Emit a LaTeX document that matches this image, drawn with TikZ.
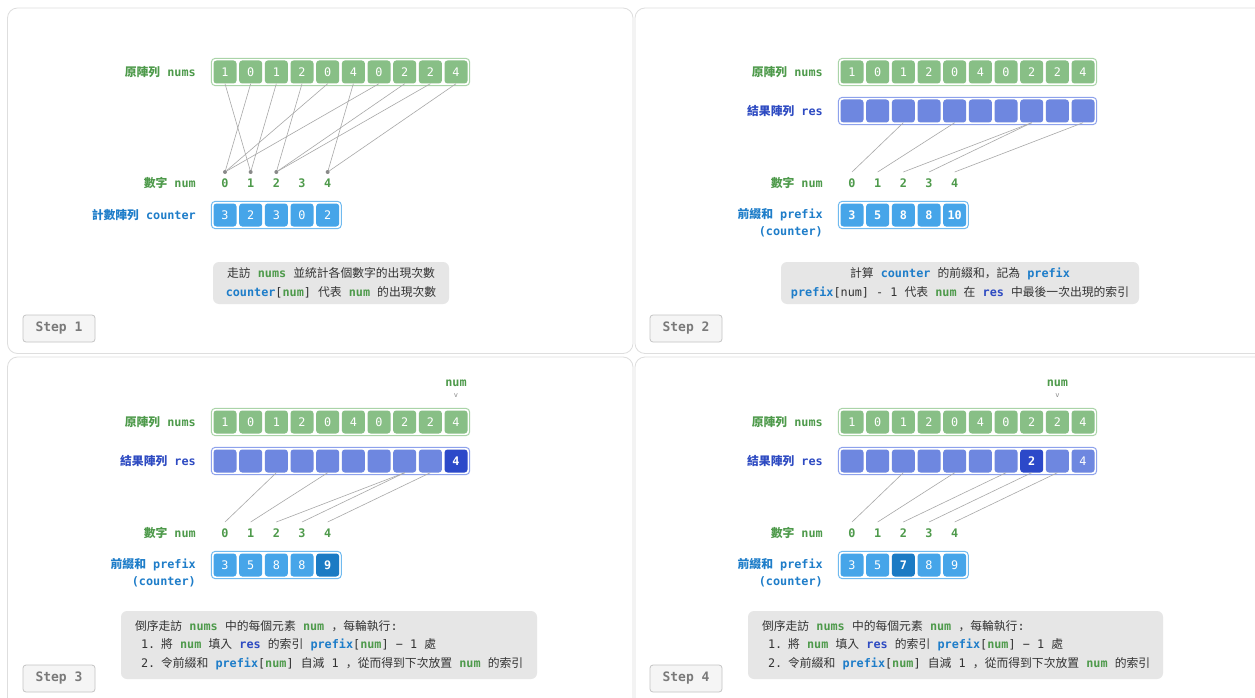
\documentclass[tikz,border=0pt]{standalone}
\usepackage{fontspec}
\setmainfont{DejaVu Sans Mono}
\newfontfamily\zhfont{Noto Sans CJK TC}
\newfontfamily\zhpunct{Noto Sans CJK SC}
\usetikzlibrary{fit}

\definecolor{numfill}{HTML}{88BF86}
\definecolor{numedge}{HTML}{AAD4A8}
\definecolor{numtext}{HTML}{4E9A4B}
\definecolor{resfill}{HTML}{6E87E0}
\definecolor{resedge}{HTML}{8EA2EC}
\definecolor{resdark}{HTML}{2C49C9}
\definecolor{restext}{HTML}{2E4BC2}
\definecolor{cntfill}{HTML}{46A5E9}
\definecolor{cntedge}{HTML}{70BAEF}
\definecolor{cntdark}{HTML}{1B7BC4}
\definecolor{cnttext}{HTML}{1E7DC9}
\definecolor{notegray}{HTML}{E6E6E6}
\definecolor{notetext}{HTML}{333333}
\definecolor{panelline}{HTML}{DEDEDE}
\definecolor{linkgray}{HTML}{A8A8A8}
\definecolor{dotgray}{HTML}{8A8A8A}
\definecolor{btnfill}{HTML}{F5F5F5}
\definecolor{btnline}{HTML}{C4C4C4}
\definecolor{btntext}{HTML}{7A7A7A}

\newcommand{\zh}[1]{{\zhfont #1}}
\newcommand{\cm}{{\zhpunct ，}}
\newcommand{\fs}{\fontsize{11.8}{18.5}\selectfont}
\newcommand{\widesp}{\spaceskip=7.2pt\relax}
\newcommand{\gk}[1]{\textcolor{numtext}{\bfseries #1}}
\newcommand{\bk}[1]{\textcolor{cnttext}{\bfseries #1}}
\newcommand{\rk}[1]{\textcolor{restext}{\bfseries #1}}

% one row of cells: name, y, style, values, hot index, hot style
\newcommand{\cellrow}[6]{%
  \foreach \v [count=\i from 0] in {#4} {
    \ifnum\i=#5\relax \def\cs{#6}\else \def\cs{#3}\fi
    \node[\cs] (#1-\i) at ({225+25.67*\i},#2) {\v};
  }
}

\tikzset{
  panel/.style={draw=panelline, line width=0.8pt, rounded corners=10pt},
  cell/.style={rounded corners=3pt, minimum width=23pt, minimum height=23pt,
    inner sep=0pt, text=white, font=\fs},
  numcell/.style={cell, fill=numfill},
  rescell/.style={cell, fill=resfill},
  reshot/.style={cell, fill=resdark, font=\fs\bfseries},
  cntcell/.style={cell, fill=cntfill},
  cntbold/.style={cell, fill=cntfill, font=\fs\bfseries},
  cnthot/.style={cell, fill=cntdark, font=\fs\bfseries},
  frame/.style={draw, rounded corners=4pt, line width=1pt, inner sep=2pt},
  lbl/.style={anchor=east, inner sep=0pt, font=\fs\bfseries},
  digit/.style={font=\fs\bfseries, text=numtext},
  dot/.style={circle, fill=dotgray, inner sep=0pt, minimum size=4pt},
  link/.style={draw=linkgray, line width=0.6pt},
  note/.style={fill=notegray, rounded corners=6pt, text=notetext, font=\fs},
  widenote/.style={note, align=left, inner xsep=14pt, minimum height=68pt},
  stepbtn/.style={draw=btnline, line width=0.8pt, fill=btnfill, rounded corners=3pt,
    text=btntext, font=\fontsize{13}{15}\selectfont\bfseries,
    minimum width=72pt, minimum height=27pt},
  marker/.style={font=\fs\bfseries, text=numtext},
  tick/.style={font=\fontsize{7}{8}\selectfont, text=dotgray},
}

\begin{document}
\begin{tikzpicture}[x=1pt, y=-1pt]
  \useasboundingbox (0,0) rectangle (1255,698);
  \fill[white] (0,0) rectangle (1255,698);
  \clip (0,0) rectangle (1255,698);

  % panels
  \draw[panel] (7.5,8) rectangle (633,353.5);
  \draw[panel] (635,8) rectangle (1270,353.5);
  \draw[panel] (7.5,357) rectangle (633,712);
  \draw[panel] (635,357) rectangle (1270,712);

  % step 1
  \node[lbl, text=numtext] (ln1) at (196,72) {\zh{原陣列} nums};
  \cellrow{a1}{72}{numcell}{1,0,1,2,0,4,0,2,2,4}{-1}{numcell}
  \node[frame, draw=numedge, fit=(a1-0)(a1-9)] (fa1) {};
  \foreach \k in {0,1,2,4}
    \node[dot] (p1-\k) at ({225+25.67*\k},172) {};
  \foreach \i/\v in {0/1,1/0,2/1,3/2,4/0,5/4,6/0,7/2,8/2,9/4}
    \draw[link] (a1-\i.south) -- (p1-\v);
  \node[lbl, text=numtext] (lk1) at (196,183) {\zh{數字} num};
  \foreach \k in {0,...,4}
    \node[digit] (k1-\k) at ({225+25.67*\k},183) {\k};
  \node[lbl, text=cnttext] (lc1) at (196,215) {\zh{計數陣列} counter};
  \cellrow{c1}{215}{cntcell}{3,2,3,0,2}{-1}{cntcell}
  \node[frame, draw=cntedge, fit=(c1-0)(c1-4)] (fc1) {};
  \node[note, align=center, minimum width=236pt, minimum height=42pt] (n1) at (331,283)
    {\zh{走訪} \gk{nums} \zh{並統計各個數字的出現次數}\\
     \bk{counter}[\gk{num}] \zh{代表} \gk{num} \zh{的出現次數}};
  \node[stepbtn] (s1) at (59,328.5) {Step 1};

  % step 2
  \begin{scope}[shift={(627,0)}]
    \node[lbl, text=numtext] (ln2) at (196,72) {\zh{原陣列} nums};
    \cellrow{a2}{72}{numcell}{1,0,1,2,0,4,0,2,2,4}{-1}{numcell}
    \node[frame, draw=numedge, fit=(a2-0)(a2-9)] (fa2) {};
    \node[lbl, text=restext] (lr2) at (196,111) {\zh{結果陣列} res};
    \cellrow{r2}{111}{rescell}{{},{},{},{},{},{},{},{},{},{}}{-1}{rescell}
    \node[frame, draw=resedge, fit=(r2-0)(r2-9)] (fr2) {};
    \foreach \k in {0,...,4}
      \coordinate (t2-\k) at ({225+25.67*\k},172);
    \foreach \k/\j in {0/2,1/4,2/7,3/7,4/9}
      \draw[link] (r2-\j.south) -- (t2-\k);
    \node[lbl, text=numtext] (lk2) at (196,183) {\zh{數字} num};
    \foreach \k in {0,...,4}
      \node[digit] (k2-\k) at ({225+25.67*\k},183) {\k};
    \node[lbl, text=cnttext] (lq2) at (196,215) {\zh{前綴和} prefix};
    \node[lbl, text=cnttext] (lq2b) at (196,232) {(counter)};
    \cellrow{q2}{215}{cntbold}{3,5,8,8,10}{-1}{cntbold}
    \node[frame, draw=cntedge, fit=(q2-0)(q2-4)] (fq2) {};
    \node[note, align=center, minimum width=358pt, minimum height=42pt] (n2) at (333,283)
      {\zh{計算} \bk{counter} \zh{的前綴和}\cm\zh{記為} \bk{prefix}\\
       \bk{prefix}[num] - 1 \zh{代表} \gk{num} \zh{在} \rk{res} \zh{中最後一次出現的索引}};
    \node[stepbtn] (s2) at (59,328.5) {Step 2};
  \end{scope}

  % step 3
  \begin{scope}[shift={(0,350)}]
    \node[marker] (m3) at (456,33) {num};
    \node[tick] (v3) at (456,46) {v};
    \node[lbl, text=numtext] (ln3) at (196,72) {\zh{原陣列} nums};
    \cellrow{a3}{72}{numcell}{1,0,1,2,0,4,0,2,2,4}{-1}{numcell}
    \node[frame, draw=numedge, fit=(a3-0)(a3-9)] (fa3) {};
    \node[lbl, text=restext] (lr3) at (196,111) {\zh{結果陣列} res};
    \cellrow{r3}{111}{rescell}{{},{},{},{},{},{},{},{},{},4}{9}{reshot}
    \node[frame, draw=resedge, fit=(r3-0)(r3-9)] (fr3) {};
    \foreach \k in {0,...,4}
      \coordinate (t3-\k) at ({225+25.67*\k},172);
    \foreach \k/\j in {0/2,1/4,2/7,3/7,4/8}
      \draw[link] (r3-\j.south) -- (t3-\k);
    \node[lbl, text=numtext] (lk3) at (196,183) {\zh{數字} num};
    \foreach \k in {0,...,4}
      \node[digit] (k3-\k) at ({225+25.67*\k},183) {\k};
    \node[lbl, text=cnttext] (lq3) at (196,215) {\zh{前綴和} prefix};
    \node[lbl, text=cnttext] (lq3b) at (196,232) {(counter)};
    \cellrow{q3}{215}{cntcell}{3,5,8,8,9}{4}{cnthot}
    \node[frame, draw=cntedge, fit=(q3-0)(q3-4)] (fq3) {};
    \node[widenote, text width=388pt] (n3) at (329,295)
      {\widesp\mbox{\zh{倒序走訪} \gk{nums} \zh{中的每個元素} \gk{num} \cm\zh{每輪執行}:}\\
       \mbox{\hspace*{6pt}1. \zh{將} \gk{num} \zh{填入} \rk{res} \zh{的索引} \bk{prefix}[\gk{num}] − 1 \zh{處}}\\
       \mbox{\hspace*{6pt}2. \zh{令前綴和} \bk{prefix}[\gk{num}] \zh{自減} 1 \cm\zh{從而得到下次放置} \gk{num} \zh{的索引}}};
    \node[stepbtn] (s3) at (59,328.5) {Step 3};
  \end{scope}

  % step 4
  \begin{scope}[shift={(627,350)}]
    \node[marker] (m4) at (430.4,33) {num};
    \node[tick] (v4) at (430.4,46) {v};
    \node[lbl, text=numtext] (ln4) at (196,72) {\zh{原陣列} nums};
    \cellrow{a4}{72}{numcell}{1,0,1,2,0,4,0,2,2,4}{-1}{numcell}
    \node[frame, draw=numedge, fit=(a4-0)(a4-9)] (fa4) {};
    \node[lbl, text=restext] (lr4) at (196,111) {\zh{結果陣列} res};
    \cellrow{r4}{111}{rescell}{{},{},{},{},{},{},{},2,{},4}{7}{reshot}
    \node[frame, draw=resedge, fit=(r4-0)(r4-9)] (fr4) {};
    \foreach \k in {0,...,4}
      \coordinate (t4-\k) at ({225+25.67*\k},172);
    \foreach \k/\j in {0/2,1/4,2/6,3/7,4/8}
      \draw[link] (r4-\j.south) -- (t4-\k);
    \node[lbl, text=numtext] (lk4) at (196,183) {\zh{數字} num};
    \foreach \k in {0,...,4}
      \node[digit] (k4-\k) at ({225+25.67*\k},183) {\k};
    \node[lbl, text=cnttext] (lq4) at (196,215) {\zh{前綴和} prefix};
    \node[lbl, text=cnttext] (lq4b) at (196,232) {(counter)};
    \cellrow{q4}{215}{cntcell}{3,5,7,8,9}{2}{cnthot}
    \node[frame, draw=cntedge, fit=(q4-0)(q4-4)] (fq4) {};
    \node[widenote, text width=387pt] (n4) at (328.5,295)
      {\widesp\mbox{\zh{倒序走訪} \gk{nums} \zh{中的每個元素} \gk{num} \cm\zh{每輪執行}:}\\
       \mbox{\hspace*{6pt}1. \zh{將} \gk{num} \zh{填入} \rk{res} \zh{的索引} \bk{prefix}[\gk{num}] − 1 \zh{處}}\\
       \mbox{\hspace*{6pt}2. \zh{令前綴和} \bk{prefix}[\gk{num}] \zh{自減} 1 \cm\zh{從而得到下次放置} \gk{num} \zh{的索引}}};
    \node[stepbtn] (s4) at (59,328.5) {Step 4};
  \end{scope}
\end{tikzpicture}
\end{document}
